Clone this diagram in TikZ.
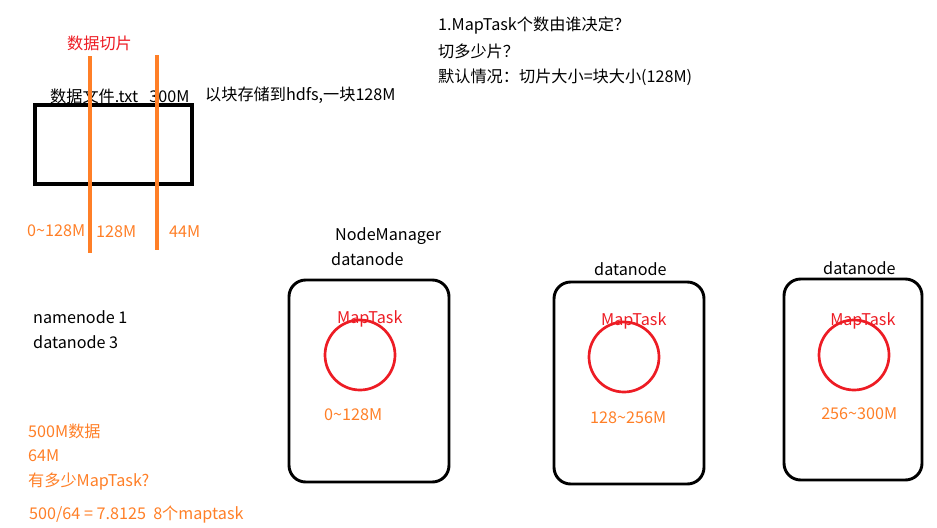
\documentclass[tikz,border=0pt]{standalone}
\usepackage{fontspec}
\setmainfont{Noto Sans CJK SC}
\definecolor{paintorange}{RGB}{255,127,39}
\definecolor{paintred}{RGB}{237,28,36}
\tikzset{
  txt/.style={anchor=west, inner sep=0pt, font=\fontsize{13.8}{15}\selectfont},
  blacktxt/.style={txt, text=black},
  orangetxt/.style={txt, text=paintorange},
  redtxt/.style={txt, text=paintred},
  nodebox/.style={draw=black, line width=2.5pt, rounded corners=0.5cm},
  taskring/.style={draw=paintred, line width=2.3pt},
  cutline/.style={draw=paintorange, line width=2.8pt}
}
\begin{document}
\begin{tikzpicture}[x=0.03cm, y=-0.03cm]
  \useasboundingbox (0,0) rectangle (937,527);
  % datafile
  \draw[line width=2.8pt] (35,105) rectangle (192,184);
  \node[blacktxt] (file) at (50,96) {数据文件.txt\hspace{0.7em}300M};
  \node[blacktxt] (store) at (205,95) {以块存储到hdfs,一块128M};
  \node[redtxt] (cut) at (67,43) {数据切片};
  \draw[cutline] (90,56) -- (90,253);
  \draw[cutline] (157,55) -- (157,250);
  \node[orangetxt] (splitA) at (27,231) {0\char`~128M};
  \node[orangetxt] (splitB) at (96,232) {128M};
  \node[orangetxt] (splitC) at (169,232) {44M};
  % question
  \node[blacktxt] (q1) at (438,26) {1.MapTask个数由谁决定？};
  \node[blacktxt] (q2) at (438,51) {切多少片？};
  \node[blacktxt] (q3) at (438,77) {默认情况：切片大小=块大小(128M)};
  % cluster
  \node[blacktxt] (nn) at (33,317) {namenode 1};
  \node[blacktxt] (dn) at (33,342) {datanode 3};
  % example
  \node[orangetxt] (ex1) at (28,431) {500M数据};
  \node[orangetxt] (ex2) at (28,456) {64M};
  \node[orangetxt] (ex3) at (28,482) {有多少MapTask?};
  \node[orangetxt] (ex4) at (29,515) {500/64 = 7.8125\ \ 8个maptask};
  % datanode 1
  \node[blacktxt] (nm) at (335,236) {NodeManager};
  \node[blacktxt] (dnA) at (331,259) {datanode};
  \draw[nodebox] (289,280) rectangle (449,482);
  \node[redtxt] (mtA) at (337,319) {MapTask};
  \draw[taskring] (360,355) circle (35);
  \node[orangetxt] (rgA) at (324,415) {0\char`~128M};
  % datanode 2
  \node[blacktxt] (dnB) at (594,269) {datanode};
  \draw[nodebox] (554,282) rectangle (704,484);
  \node[redtxt] (mtB) at (601,321) {MapTask};
  \draw[taskring] (624,357) circle (35);
  \node[orangetxt] (rgB) at (590,418) {128\char`~256M};
  % datanode 3
  \node[blacktxt] (dnC) at (823,268) {datanode};
  \draw[nodebox] (784,279) rectangle (922,480);
  \node[redtxt] (mtC) at (830,321) {MapTask};
  \draw[taskring] (854,355) circle (35);
  \node[orangetxt] (rgC) at (821,414) {256\char`~300M};
\end{tikzpicture}
\end{document}
